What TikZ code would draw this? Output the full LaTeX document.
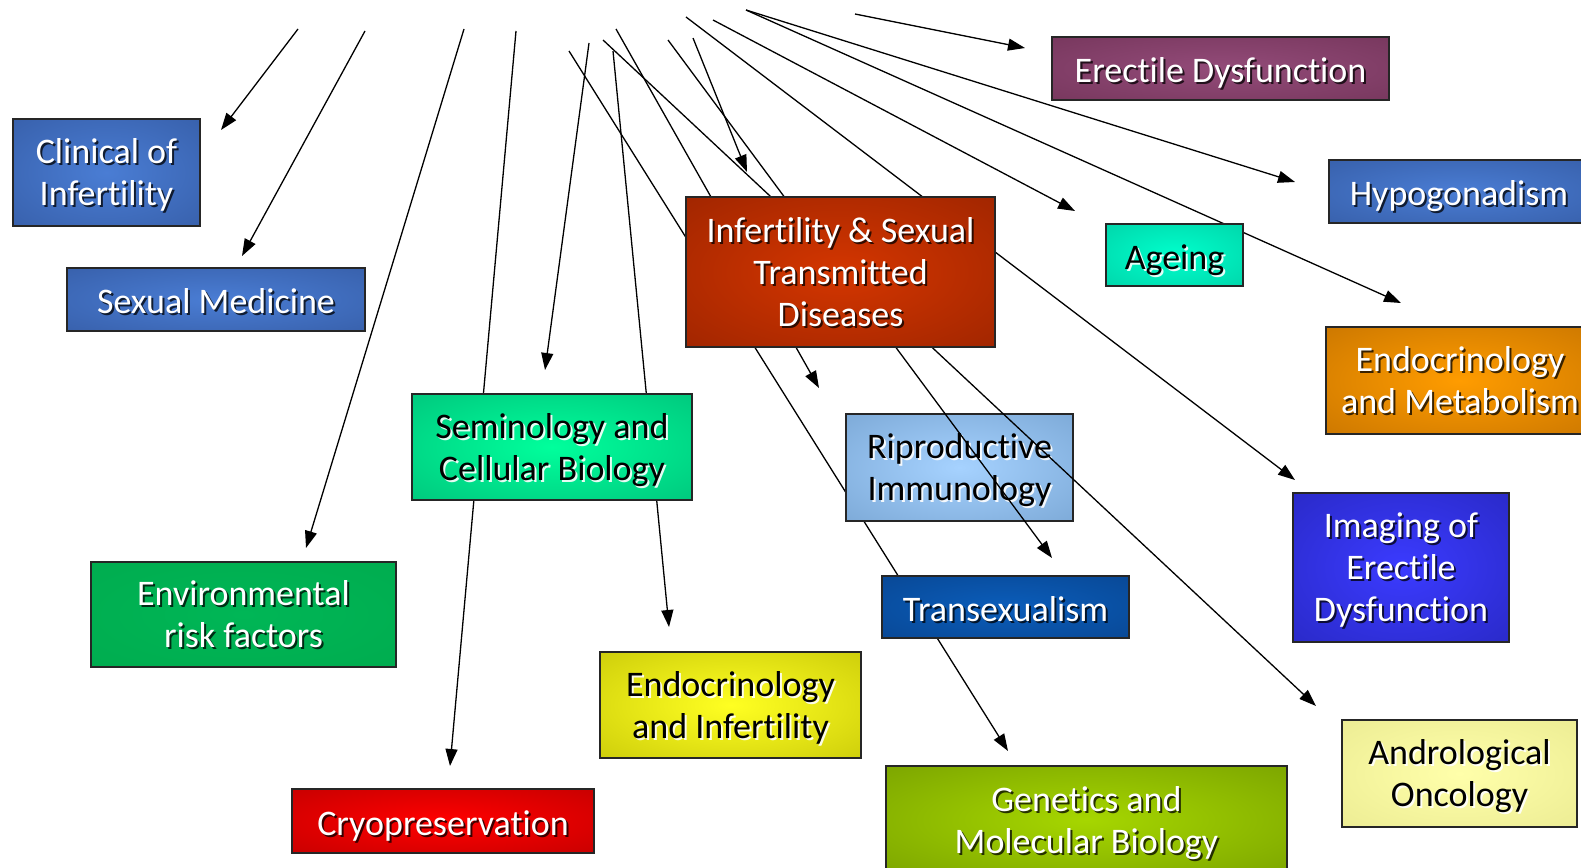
\documentclass[tikz,border=0pt]{standalone}
\usepackage{fontspec}
\setmainfont{Carlito}[Ligatures=NoCommon]
\usetikzlibrary{arrows.meta}
\makeatletter
\pgfdeclareradialshading[tikz@radial@inner,tikz@radial@outer]{softrad}{\pgfpoint{0bp}{0bp}}{color(0bp)=(tikz@radial@inner);color(52bp)=(tikz@radial@outer);color(75bp)=(tikz@radial@outer)}
\makeatother
\definecolor{riproI}{HTML}{A6D2FF}\definecolor{riproO}{HTML}{6B98C6}
\definecolor{blueI}{HTML}{4A7DD4}\definecolor{blueO}{HTML}{30549A}
\definecolor{erectI}{HTML}{934B79}\definecolor{erectO}{HTML}{6C2F52}
\definecolor{ageI}{HTML}{00FFCC}\definecolor{ageO}{HTML}{00C49C}
\definecolor{infI}{HTML}{D43600}\definecolor{infO}{HTML}{8A1E00}
\definecolor{metI}{HTML}{FF9C00}\definecolor{metO}{HTML}{B66800}
\definecolor{semI}{HTML}{00FF9C}\definecolor{semO}{HTML}{00B070}
\definecolor{imgI}{HTML}{3B3BFF}\definecolor{imgO}{HTML}{2222B0}
\definecolor{envI}{HTML}{00B656}\definecolor{envO}{HTML}{00A84C}
\definecolor{trI}{HTML}{0B5DBA}\definecolor{trO}{HTML}{073F86}
\definecolor{eiI}{HTML}{FFFF22}\definecolor{eiO}{HTML}{B8B800}
\definecolor{anI}{HTML}{FFFFAA}\definecolor{anO}{HTML}{E4E48A}
\definecolor{cryI}{HTML}{FF0000}\definecolor{cryO}{HTML}{B00000}
\definecolor{genI}{HTML}{A6D600}\definecolor{genO}{HTML}{6A9000}
\tikzset{
  box/.style={rectangle, draw=black!85, line width=1.5pt, inner sep=0pt},
  sh/.style 2 args={inner color=#1, outer color=#2, shading=softrad},
  txt/.style={align=center, font=\fontsize{36}{42}\selectfont, inner sep=0pt,
    execute at begin node={\strut}, execute at end node={\strut}},
  tw/.style={text=white},
  twsh/.style={text=black, text opacity=0.75},
  tk/.style={text=black},
  tksh/.style={text=white, text opacity=0.9},
  arr/.style={line width=1.3pt, -{Triangle[length=17pt,width=12pt]}},
}
\newcommand\boxlabel[3]{%
  \node[txt,#2sh] at ([xshift=2pt,yshift=-8pt]#1.center) {#3};
  \node[txt,#2] at ([yshift=-6pt]#1.center) {#3};}
\begin{document}
\begin{tikzpicture}[x=1pt,y=-1pt]
\clip (0,0) rectangle (1581,867);
\fill[white] (0,0) rectangle (1581,867);
% free ends
\coordinate (s1) at (298,29);  \coordinate (t1) at (221,130);
\coordinate (s2) at (365,31);  \coordinate (t2) at (242,256);
\coordinate (s3) at (464,29);  \coordinate (t3) at (306,548);
\coordinate (s4) at (516,31);  \coordinate (t4) at (450,766);
\coordinate (s5) at (589,43);  \coordinate (t5) at (545,370);
\coordinate (s6) at (613,51);  \coordinate (t6) at (669,627);
\coordinate (s7) at (569,51);  \coordinate (t7) at (1008,751);
\coordinate (s8) at (603,40);  \coordinate (t8) at (1316,706);
\coordinate (s9) at (616,29);  \coordinate (t9) at (819,388);
\coordinate (s10) at (668,40); \coordinate (t10) at (1052,558);
\coordinate (s11) at (693,38); \coordinate (t11) at (747,172);
\coordinate (s12) at (686,17); \coordinate (t12) at (1295,480);
\coordinate (s13) at (713,20); \coordinate (t13) at (1075,211);
\coordinate (hub) at (746,10); \coordinate (t14) at (1295,182);
\coordinate (t15) at (1401,303);
\coordinate (s16) at (855,14); \coordinate (t16) at (1025,48);
% line behind the immunology box
\draw[arr] (s7) -- (t7);
\node[box, sh={riproI}{riproO}, minimum width=227pt, minimum height=107pt] (ripro) at (959.5,467.5) {};
\boxlabel{ripro}{tk}{Riproductive\\Immunology}
% other connectors
\draw[arr] (s1) -- (t1);
\draw[arr] (s2) -- (t2);
\draw[arr] (s3) -- (t3);
\draw[arr] (s4) -- (t4);
\draw[arr] (s5) -- (t5);
\draw[arr] (s6) -- (t6);
\draw[arr] (s8) -- (t8);
\draw[arr] (s9) -- (t9);
\draw[arr] (s10) -- (t10);
\draw[arr] (s11) -- (t11);
\draw[arr] (s12) -- (t12);
\draw[arr] (s13) -- (t13);
\draw[arr] (hub) -- (t14);
\draw[arr] (hub) -- (t15);
\draw[arr] (s16) -- (t16);
% boxes
\node[box, sh={blueI}{blueO}, minimum width=187pt, minimum height=107pt] (clin) at (106.5,172.5) {};
\boxlabel{clin}{tw}{Clinical of\\Infertility}
\node[box, sh={blueI}{blueO}, minimum width=298pt, minimum height=63pt] (sexmed) at (216,299.5) {};
\boxlabel{sexmed}{tw}{Sexual Medicine}
\node[box, sh={erectI}{erectO}, minimum width=337pt, minimum height=63pt] (erect) at (1220.5,68.5) {};
\boxlabel{erect}{tw}{Erectile Dysfunction}
\node[box, sh={blueI}{blueO}, minimum width=260pt, minimum height=63pt] (hypo) at (1459,191.5) {};
\boxlabel{hypo}{tw}{Hypogonadism}
\node[box, sh={ageI}{ageO}, minimum width=137pt, minimum height=62pt] (ageing) at (1174.5,255) {};
\boxlabel{ageing}{tk}{Ageing}
\node[box, sh={infI}{infO}, minimum width=309pt, minimum height=150pt] (inf) at (840.5,272) {};
\boxlabel{inf}{tw}{Infertility \& Sexual\\Transmitted\\Diseases}
\node[box, sh={metI}{metO}, minimum width=268pt, minimum height=107pt] (endomet) at (1460,380.5) {};
\boxlabel{endomet}{tw}{Endocrinology\\and Metabolism}
\node[box, sh={semI}{semO}, minimum width=280pt, minimum height=106pt] (semin) at (552,447) {};
\boxlabel{semin}{tk}{Seminology and\\Cellular Biology}
\node[box, sh={imgI}{imgO}, minimum width=216pt, minimum height=149pt] (imaging) at (1401,567.5) {};
\boxlabel{imaging}{tw}{Imaging of\\Erectile\\Dysfunction}
\node[box, sh={envI}{envO}, minimum width=305pt, minimum height=105pt] (env) at (243.5,614.5) {};
\boxlabel{env}{tw}{Environmental\\risk factors}
\node[box, sh={trI}{trO}, minimum width=247pt, minimum height=62pt] (trans) at (1005.5,607) {};
\boxlabel{trans}{tw}{Transexualism}
\node[box, sh={eiI}{eiO}, minimum width=261pt, minimum height=106pt] (endoinf) at (730.5,705) {};
\boxlabel{endoinf}{tk}{Endocrinology\\and Infertility}
\node[box, sh={anI}{anO}, minimum width=235pt, minimum height=107pt] (andro) at (1459.5,773.5) {};
\boxlabel{andro}{tk}{Andrological\\Oncology}
\node[box, sh={cryI}{cryO}, minimum width=302pt, minimum height=64pt] (cryo) at (443,821) {};
\boxlabel{cryo}{tw}{Cryopreservation}
\node[box, sh={genI}{genO}, minimum width=401pt, minimum height=108pt] (genet) at (1086.5,820) {};
\boxlabel{genet}{tw}{Genetics and\\Molecular Biology}
\end{tikzpicture}
\end{document}
